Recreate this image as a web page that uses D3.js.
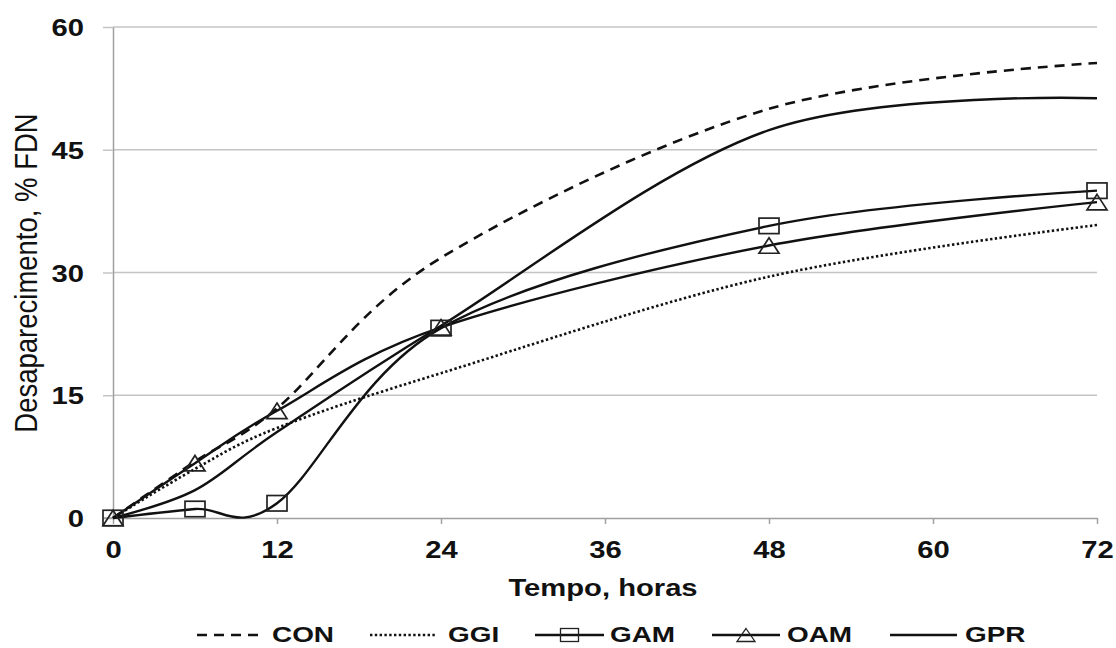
<!DOCTYPE html>
<html>
<head>
<meta charset="utf-8">
<script src="https://cdn.jsdelivr.net/npm/d3@7"></script>
<style>
  html, body { margin: 0; padding: 0; background: #fff; }
  svg { display: block; font-family: "Liberation Sans", Arial, sans-serif; }
</style>
</head>
<body>
<svg id="chart" width="1116" height="648"></svg>
<script>
// ---- data ----
const hours = [0, 6, 12, 24, 48, 72];
const CON = [0, 6.9, 13.4, 31.8, 50.0, 55.6];
const GGI = [0, 6.0, 11.0, 17.7, 29.5, 35.8];
const GAM = [0, 1.1, 1.8, 23.2, 35.7, 40.0];
const OAM = [0, 6.7, 13.1, 23.3, 33.3, 38.6];
const GPR = [0, 3.4, 10.5, 23.5, 47.4, 51.3];
const seriesNames = ["CON", "GGI", "GAM", "OAM", "GPR"];
const xTickValues = [0, 12, 24, 36, 48, 60, 72];
const yTickValues = [0, 15, 30, 45, 60];
const xTitle = "Tempo, horas";
const yTitle = "Desaparecimento, % FDN";

// ---- setup ----
const svg = d3.select("#chart");
svg.append("rect").attr("width", 1116).attr("height", 648).attr("fill", "#fff");

const x = d3.scaleLinear().domain([0, 72]).range([113, 1097]);
const y = d3.scaleLinear().domain([0, 60]).range([518, 27]);
const SX = 1.27; // horizontal text stretch seen in reference
const gridColor = "#c4c4c4";
const axisColor = "#a0a0a0";

// gridlines
svg.append("g").selectAll("line").data(yTickValues.filter(v => v > 0)).join("line")
  .attr("x1", x(0)).attr("x2", x(72))
  .attr("y1", d => y(d)).attr("y2", d => y(d))
  .attr("stroke", gridColor).attr("stroke-width", 1.5);

// y axis
const yAxis = svg.append("g").attr("transform", `translate(${x(0)},0)`)
  .call(d3.axisLeft(y).tickValues(yTickValues).tickSize(10).tickSizeOuter(0));
yAxis.select(".domain").attr("stroke", axisColor).attr("stroke-width", 1.5);
yAxis.selectAll(".tick line").attr("stroke", d => d === 0 ? axisColor : gridColor).attr("stroke-width", 1.5);
yAxis.selectAll(".tick text")
  .attr("x", 0).attr("dy", null).attr("y", 0)
  .attr("transform", `translate(-29,8.5) scale(${SX},1)`)
  .attr("text-anchor", "end")
  .attr("font-family", "'Liberation Sans', Arial, sans-serif")
  .attr("font-size", 23).attr("font-weight", "bold").attr("fill", "#111");

// x axis
const xAxis = svg.append("g").attr("transform", `translate(0,${y(0)})`)
  .call(d3.axisBottom(x).tickValues(xTickValues).tickSize(6).tickSizeOuter(0));
xAxis.select(".domain").attr("stroke", axisColor).attr("stroke-width", 1.5);
xAxis.selectAll(".tick line").attr("stroke", axisColor).attr("stroke-width", 1.5);
xAxis.selectAll(".tick text")
  .attr("x", 0).attr("dy", null).attr("y", 0)
  .attr("transform", `translate(0,40) scale(${SX},1)`)
  .attr("text-anchor", "middle")
  .attr("font-family", "'Liberation Sans', Arial, sans-serif")
  .attr("font-size", 23).attr("font-weight", "bold").attr("fill", "#111");
// extend the zero line a bit to the left like the reference
svg.append("line").attr("x1", x(0) - 10).attr("x2", x(0)).attr("y1", y(0)).attr("y2", y(0))
  .attr("stroke", axisColor).attr("stroke-width", 1.5);

// axis titles
svg.append("text").text(xTitle)
  .attr("transform", `translate(603,596) scale(${SX},1)`)
  .attr("text-anchor", "middle").attr("font-size", 23).attr("font-weight", "bold").attr("fill", "#111");
svg.append("text").text(yTitle)
  .attr("transform", `translate(37,273) rotate(-90) scale(1,1.12)`)
  .attr("text-anchor", "middle").attr("font-size", 27.5).attr("fill", "#111");

// ---- series ----
const styles = {
  CON: { dash: "10,7", width: 2.6, marker: null },
  GGI: { dash: "2.4,2.4", width: 2.6, marker: null },
  GAM: { dash: null, width: 2.4, marker: "square" },
  OAM: { dash: null, width: 2.4, marker: "triangle" },
  GPR: { dash: null, width: 2.4, marker: null }
};
const values = { CON, GGI, GAM, OAM, GPR };
const line = d3.line().x(d => x(d[0])).y(d => y(d[1])).curve(d3.curveCardinal.tension(0));

const plot = svg.append("g");
seriesNames.forEach(name => {
  const pts = hours.map((h, i) => [h, values[name][i]]);
  plot.append("path").datum(pts)
    .attr("d", line).attr("fill", "none")
    .attr("stroke", "#111").attr("stroke-width", styles[name].width)
    .attr("stroke-dasharray", styles[name].dash)
    .attr("stroke-linejoin", "round");
});

function drawMarker(g, type, cx, cy, w, h, sw) {
  if (type === "square") {
    g.append("rect").attr("x", cx - w / 2).attr("y", cy - h / 2).attr("width", w).attr("height", h)
      .attr("fill", "none").attr("stroke", "#222").attr("stroke-width", sw);
  } else if (type === "triangle") {
    g.append("path").attr("d", `M${cx},${cy - h / 2}L${cx + w / 2},${cy + h / 2}L${cx - w / 2},${cy + h / 2}Z`)
      .attr("fill", "none").attr("stroke", "#222").attr("stroke-width", sw);
  }
}
seriesNames.forEach(name => {
  const m = styles[name].marker;
  if (!m) return;
  hours.forEach((h, i) => drawMarker(plot, m, x(h), y(values[name][i]), 20, 15.5, 1.7));
});

// ---- legend ----
const legendLayout = [
  { name: "CON", x1: 197, x2: 262, tx: 272 },
  { name: "GGI", x1: 370, x2: 435, tx: 448 },
  { name: "GAM", x1: 535, x2: 604, tx: 610 },
  { name: "OAM", x1: 712, x2: 780, tx: 787 },
  { name: "GPR", x1: 890, x2: 957, tx: 965 }
];
const lg = svg.append("g");
legendLayout.forEach(it => {
  const st = styles[it.name];
  lg.append("line").attr("x1", it.x1).attr("x2", it.x2).attr("y1", 635).attr("y2", 635)
    .attr("stroke", "#111").attr("stroke-width", st.width).attr("stroke-dasharray", st.dash);
  if (st.marker) drawMarker(lg, st.marker, (it.x1 + it.x2) / 2, 635, 18, 13, 1.3);
  lg.append("text").text(it.name)
    .attr("transform", `translate(${it.tx},642) scale(${SX},1)`)
    .attr("font-size", 22).attr("font-weight", "bold").attr("fill", "#111");
});
</script>
</body>
</html>
